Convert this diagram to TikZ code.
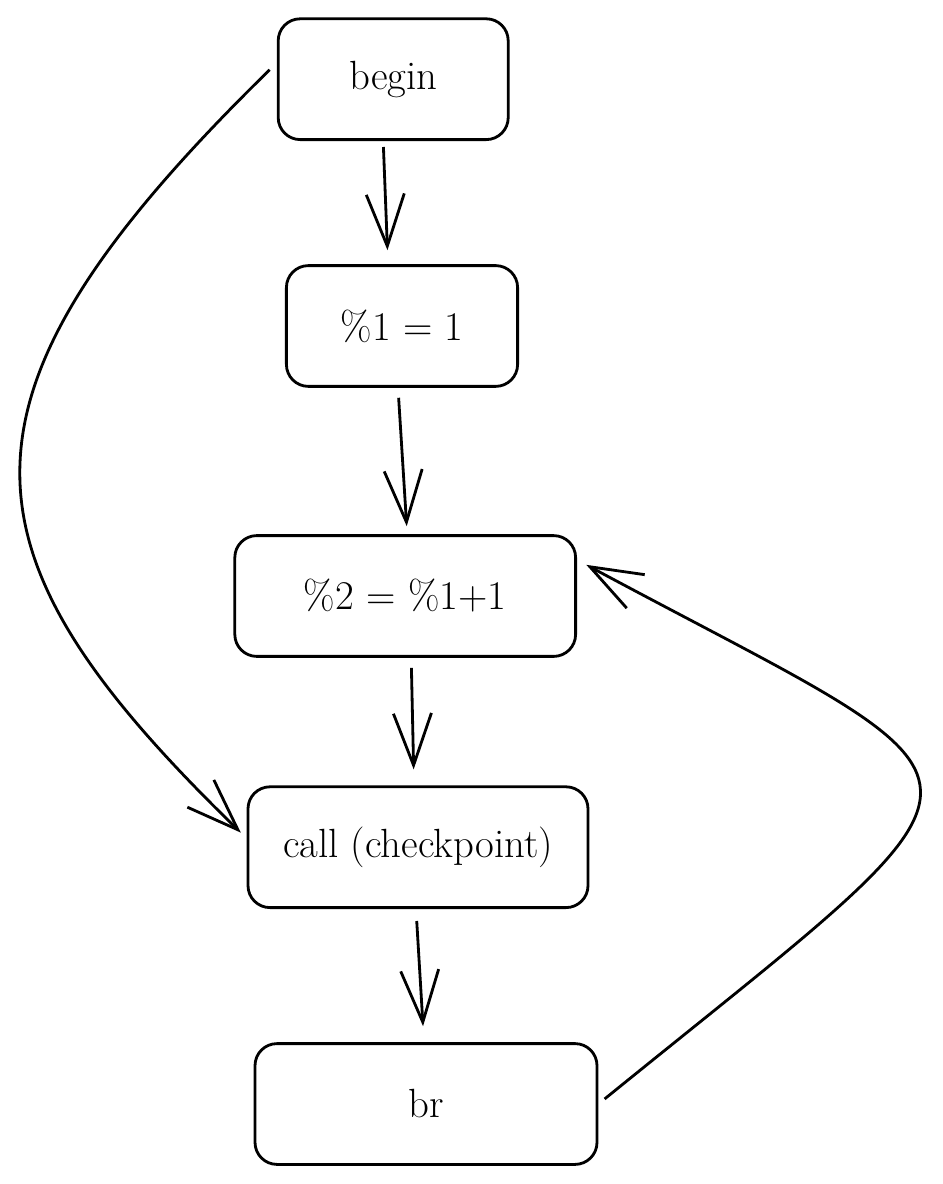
\documentclass[tikz,border=0pt]{standalone}
\usetikzlibrary{arrows.meta}
\begin{document}
\begin{tikzpicture}[
    every node/.style={font=\fontsize{29}{34}\selectfont},
    block/.style={draw, line width=2pt, rounded corners=0.55cm, minimum height=3.02cm},
    flow/.style={line width=2pt, -{Straight Barb[length=1.3cm, width=0.95cm, line width=2pt]}}
  ]
    \useasboundingbox (0,0) rectangle (23.55,-29.6);

    % Blocs du graphe
    \node[block, minimum width=5.75cm] (begin) at (9.83,-1.98) {begin};
    \node[block, minimum width=5.78cm] (one) at (10.05,-8.15) {\%1 = 1};
    \node[block, minimum width=8.52cm] (two) at (10.13,-14.9) {\%2 = \%1+1};
    \node[block, minimum width=8.5cm] (call) at (10.45,-21.18) {call (checkpoint)};
    \node[block, minimum width=8.55cm] (br) at (10.65,-27.6) {br};

    % Arcs directs
    \draw[flow, shorten <=0.15cm, shorten >=0.35cm] ([xshift=-0.25cm]begin.south) -- ([xshift=-0.35cm]one.north);
    \draw[flow, shorten <=0.25cm, shorten >=0.2cm] ([xshift=-0.1cm]one.south) -- ([xshift=0.05cm]two.north);
    \draw[flow, shorten <=0.25cm, shorten >=0.4cm] ([xshift=0.15cm]two.south) -- ([xshift=-0.1cm]call.north);
    \draw[flow, shorten <=0.3cm, shorten >=0.4cm] ([xshift=-0.05cm]call.south) -- ([xshift=-0.05cm]br.north);

    % Saut direct vers l'appel
    \draw[flow, shorten <=0.25cm, shorten >=0.2cm] (begin.172) .. controls (-1.7,-10) and (-1.2,-13.8) .. (call.177);

    % Boucle de retour
    \draw[flow, shorten <=0.2cm, shorten >=0.15cm] (br.east) .. controls (25.8,-18.8) and (25.6,-20.0) .. ([yshift=0.85cm,xshift=0.1cm]two.east);
\end{tikzpicture}
\end{document}
